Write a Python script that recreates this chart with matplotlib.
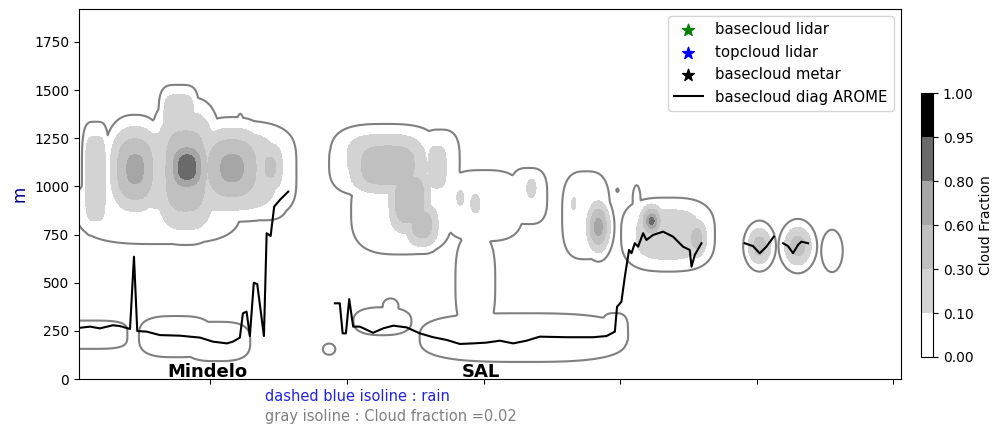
import numpy as np
import matplotlib
matplotlib.use("Agg")
import matplotlib.pyplot as plt

# cloud cells: centre (x, z), size (x, z), peak fraction, shape exponent
cell_x = [16, 62, 138, 95, 77, 122, 45, 82, 83, 116, 144, 10, 75, 105,
          220, 240, 268, 300, 333, 294, 329, 396, 226, 232, 187,
          228, 230, 246, 255, 266, 283, 294, 335,
          375, 384, 366, 398, 436, 412, 435, 423, 456, 502, 530, 555]
cell_z = [1040, 890, 960, 1080, 1330, 1320, 1090, 1080, 1100, 1095, 1100, 230, 220, 195,
          1120, 870, 1130, 900, 950, 500, 215, 250, 300, 380, 155,
          1150, 1110, 930, 800, 1100, 940, 910, 990,
          850, 790, 910, 980, 730, 930, 750, 820, 730, 690, 690, 665]
cell_wx = [8, 62, 20, 54, 12, 2.5, 14, 18, 14, 19, 8, 30, 28, 25,
           34, 38, 15, 30, 14, 15, 78, 10, 22, 6, 5.5,
           30, 24, 13, 10, 8, 4, 5, 5,
           18, 6.2, 2.5, 1.5, 27, 3, 26, 6, 6, 6.8, 8, 7.5]
cell_wz = [240, 195, 140, 210, 160, 60, 170, 260, 140, 160, 110, 75, 110, 105,
           175, 230, 170, 190, 150, 260, 130, 95, 75, 40, 35,
           130, 125, 150, 95, 130, 60, 70, 70,
           235, 95, 50, 15, 175, 80, 145, 60, 80, 75, 80, 105]
cell_peak = [0.2, 0.05, 0.05, 0.25, 0.2, 0.05, 0.68, 0.5, 0.92, 0.68, 0.35, 0.05, 0.05, 0.05,
             0.05, 0.05, 0.05, 0.05, 0.05, 0.05, 0.05, 0.05, 0.05, 0.05, 0.04,
             0.22, 0.5, 0.5, 0.45, 0.18, 0.15, 0.16, 0.16,
             0.05, 0.75, 0.15, 0.03, 0.05, 0.05, 0.2, 0.88, 0.45, 0.45, 0.45, 0.06]
cell_n = [4, 3, 3, 4, 4, 2, 2.5, 3, 2.5, 2.5, 2.5, 4, 3, 3,
          3, 3, 3, 3, 3, 3, 3, 3, 2.5, 2, 2,
          3, 3, 3, 2.5, 3, 2, 2, 2,
          3, 2, 2, 2, 3, 2, 3, 2, 2, 2, 2, 2]

# basecloud diag AROME (nan = gap)
base_x = [4.7, 12.0, 19.3, 28.8, 33.9, 41.3, 44.2, 46.6, 53.5, 63.2, 77.8, 92.5, 102.0, 112.2,
          116.6, 121.7, 123.9, 126.6, 129.0, 131.9, 134.4, 139.3, 141.3, 144.2, 146.8, 151.0, 157.1,
          np.nan,
          191.2, 194.8, 196.9, 199.3, 201.7, 204.6, 209.5, 219.2, 226.6, 233.9, 243.7, 253.4, 263.1,
          272.9, 282.7, 292.4, 302.2, 311.9, 321.7, 331.5, 341.2, 360.7, 380.2, 390.0, 396.1, 397.7,
          400.9, 403.4, 406.5, 408.3, 410.7, 413.1, 416.8, 419.2, 424.1, 431.4, 438.7, 446.0, 450.9,
          452.2, 454.6, 459.5,
          np.nan,
          491.1, 497.2, 502.1, 507.0, 512.4,
          np.nan,
          519.2, 522.8, 526.5, 530.1, 532.6, 537.5]
base_z = [266, 272, 263, 279, 275, 260, 635, 249, 246, 228, 225, 215, 194, 185,
          194, 215, 341, 350, 223, 500, 493, 223, 757, 743, 895, 930, 973,
          np.nan,
          393, 393, 237, 237, 415, 272, 272, 240, 263, 277, 268, 237, 217,
          203, 182, 185, 189, 199, 185, 199, 220, 217, 217, 223, 246, 375,
          401, 531, 670, 653, 705, 687, 757, 722, 748, 765, 739, 687, 670,
          583, 644, 705,
          np.nan,
          705, 690, 653, 687, 739,
          np.nan,
          705, 690, 653, 696, 713, 705]

levels = [0, 0.1, 0.3, 0.6, 0.8, 0.95, 1.0]
fill_colors = ['white', '#d3d3d3', '#c0c0c0', '#a6a6a6', '#6a6a6a', 'black']

xg = np.arange(0, 610, 1.0)
zg = np.arange(0, 1960, 8.0)
X, Z = np.meshgrid(xg, zg)
cf = np.zeros_like(X)
for cx, cz, sx, sz, pk, n in zip(cell_x, cell_z, cell_wx, cell_wz, cell_peak, cell_n):
    d = np.abs((X - cx) / sx) ** n + np.abs((Z - cz) / sz) ** n
    cf = np.maximum(cf, pk * np.exp(-d))

fig = plt.figure(figsize=(9.98, 4.25), dpi=100)
ax = fig.add_axes([0.0792, 0.1082, 0.8236, 0.8706])
cs = ax.contourf(X, Z, cf, levels=levels, colors=fill_colors)
ax.contour(X, Z, cf, levels=[0.02], colors='#808080', linewidths=1.5)
ax.plot(base_x, base_z, color='black', lw=1.5)

h1 = ax.scatter([], [], marker='*', color='green', s=80)
h2 = ax.scatter([], [], marker='*', color='blue', s=80)
h3 = ax.scatter([], [], marker='*', color='black', s=80)
h4, = ax.plot([], [], color='black', lw=1.5)
ax.legend([h1, h2, h3, h4], ['basecloud lidar', 'topcloud lidar', 'basecloud metar',
          'basecloud diag AROME'], loc='upper right', fontsize=10.7)

ax.set_xlim(4, 605.5)
ax.set_ylim(0, 1921)
ax.set_yticks([0, 250, 500, 750, 1000, 1250, 1500, 1750])
ax.set_xticks([100, 200, 300, 400, 500, 600])
ax.set_xticklabels([])
ax.set_ylabel('m', color='darkblue', fontsize=12)

ax.text(98, -10, 'Mindelo', fontsize=13, fontweight='bold', ha='center', va='bottom')
ax.text(298, -10, 'SAL', fontsize=13, fontweight='bold', ha='center', va='bottom')

fig.text(0.266, 0.068, 'dashed blue isoline : rain', color='#2222dd', fontsize=10.5, va='center')
fig.text(0.266, 0.021, 'gray isoline : Cloud fraction =0.02', color='gray', fontsize=10.5, va='center')

cax = fig.add_axes([0.923, 0.16, 0.012, 0.621])
cb = fig.colorbar(cs, cax=cax, ticks=levels, format='%.2f')
cb.set_label('Cloud Fraction')

fig.savefig('out.png', dpi=100)
